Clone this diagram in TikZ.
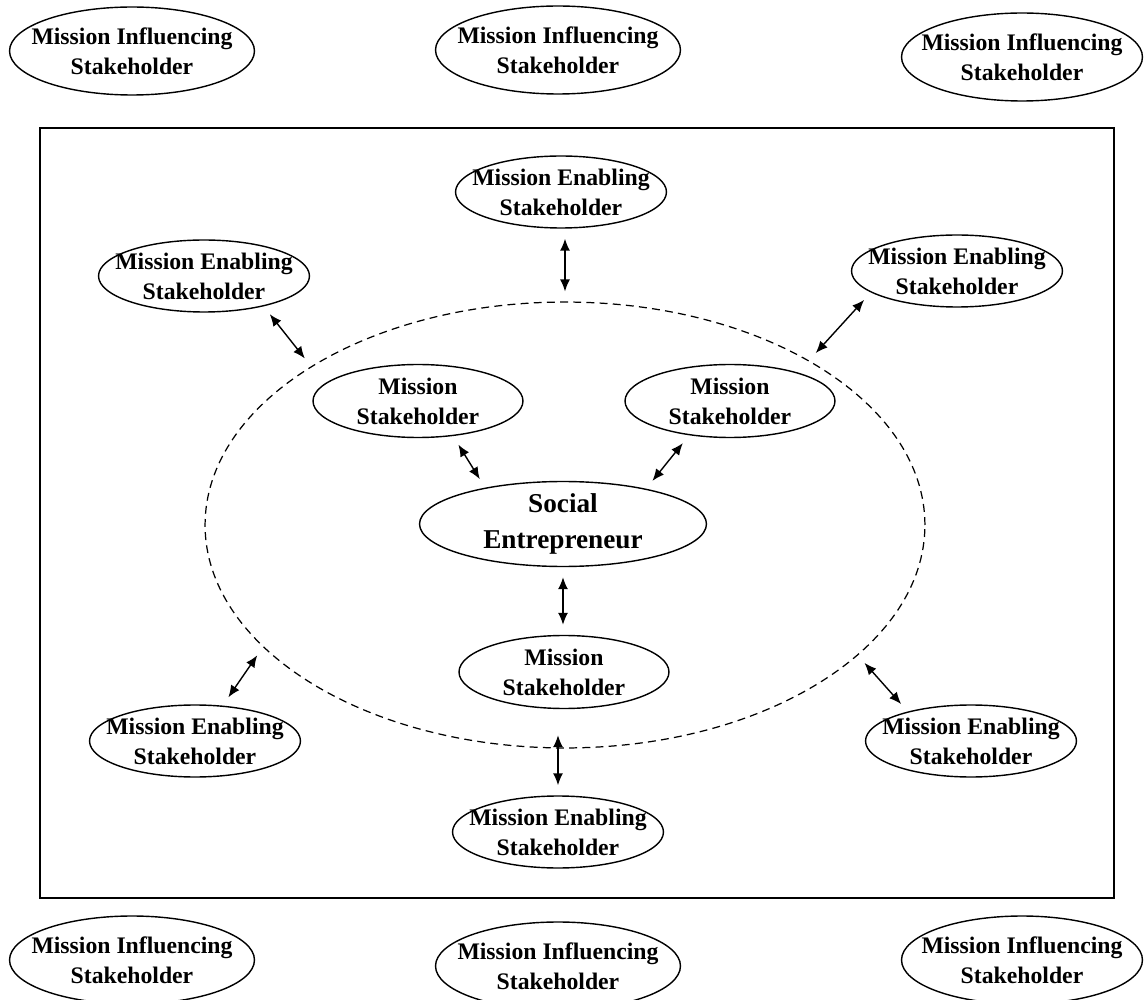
\documentclass[tikz,border=0pt]{standalone}
\usepackage{fontspec}
\setmainfont{Liberation Serif}
\usepackage{tikz}
\usetikzlibrary{arrows.meta,positioning,shapes.geometric}
\tikzset{
  stake/.style={ellipse,draw,line width=0.8pt,inner sep=0pt},
  influ/.style={stake,minimum width=4.9cm,minimum height=1.76cm},
  enab/.style={stake,minimum width=4.22cm,minimum height=1.44cm},
  miss/.style={stake,minimum width=4.2cm,minimum height=1.46cm},
  txt/.style={align=center,font=\bfseries\fontsize{13.5}{17}\selectfont},
  bigtxt/.style={align=center,font=\bfseries\fontsize{15.5}{20}\selectfont},
  ring/.style={ellipse,draw,line width=0.7pt,dash pattern=on 4.5pt off 3pt,inner sep=0pt},
  biarrow/.style={{Latex[length=2.4mm,width=2mm]}-{Latex[length=2.4mm,width=2mm]},
    line width=0.8pt,shorten <=0.2cm,shorten >=0.2cm}
}

\begin{document}
\begin{tikzpicture}[x=0.02cm,y=-0.02cm]
  \useasboundingbox (0,0) rectangle (1144,1000);

  % outer stakeholders
  \node[influ,label={[txt]center:Mission Influencing\\Stakeholder}] (inf1) at (132,51) {};
  \node[influ,label={[txt]center:Mission Influencing\\Stakeholder}] (inf2) at (558,50) {};
  \node[influ,minimum width=4.82cm,label={[txt]center:Mission Influencing\\Stakeholder}] (inf3) at (1022,57) {};
  \node[influ,label={[txt]center:Mission Influencing\\Stakeholder}] (inf4) at (132,960) {};
  \node[influ,label={[txt]center:Mission Influencing\\Stakeholder}] (inf5) at (558,966) {};
  \node[influ,minimum width=4.82cm,label={[txt]center:Mission Influencing\\Stakeholder}] (inf6) at (1022,960) {};

  \draw[line width=0.9pt] (40,128) rectangle (1114,898);

  % mission area
  \node[ring,minimum width=14.4cm,minimum height=8.92cm] (area) at (565,525) {};

  \node[enab,label={[txt]center:Mission Enabling\\Stakeholder}] (en1) at (561,192) {};
  \node[enab,label={[txt]center:Mission Enabling\\Stakeholder}] (en2) at (204,276) {};
  \node[enab,label={[txt]center:Mission Enabling\\Stakeholder}] (en3) at (957,271) {};
  \node[enab,label={[txt]center:Mission Enabling\\Stakeholder}] (en4) at (195,741) {};
  \node[enab,label={[txt]center:Mission Enabling\\Stakeholder}] (en5) at (971,741) {};
  \node[enab,label={[txt]center:Mission Enabling\\Stakeholder}] (en6) at (558,832) {};

  \node[miss,label={[txt]center:Mission\\Stakeholder}] (ms1) at (418,401) {};
  \node[miss,label={[txt]center:Mission\\Stakeholder}] (ms2) at (730,401) {};
  \node[miss,label={[txt]center:Mission\\Stakeholder}] (ms3) at (564,672) {};
  \node[stake,minimum width=5.74cm,minimum height=1.7cm,
    label={[bigtxt]center:Social\\Entrepreneur}] (se) at (563,524) {};

  % links
  \draw[biarrow] (en1.south -| area.north) -- (area.north);
  \draw[biarrow] (en2.-27) -- (area.148);
  \draw[biarrow] (en3.-166) -- (area.34);
  \draw[biarrow] (en4.52) -- (area.-158);
  \draw[biarrow] (en5.155) -- (area.-24);
  \draw[biarrow,shorten <=0.52cm] (ms3.south -| en6.north) -- (en6.north);
  \draw[biarrow] (ms1.-45) -- (se.155);
  \draw[biarrow] (ms2.-140) -- (se.23);
  \draw[biarrow] (se.south) -- (se.south |- ms3.north);
\end{tikzpicture}
\end{document}
